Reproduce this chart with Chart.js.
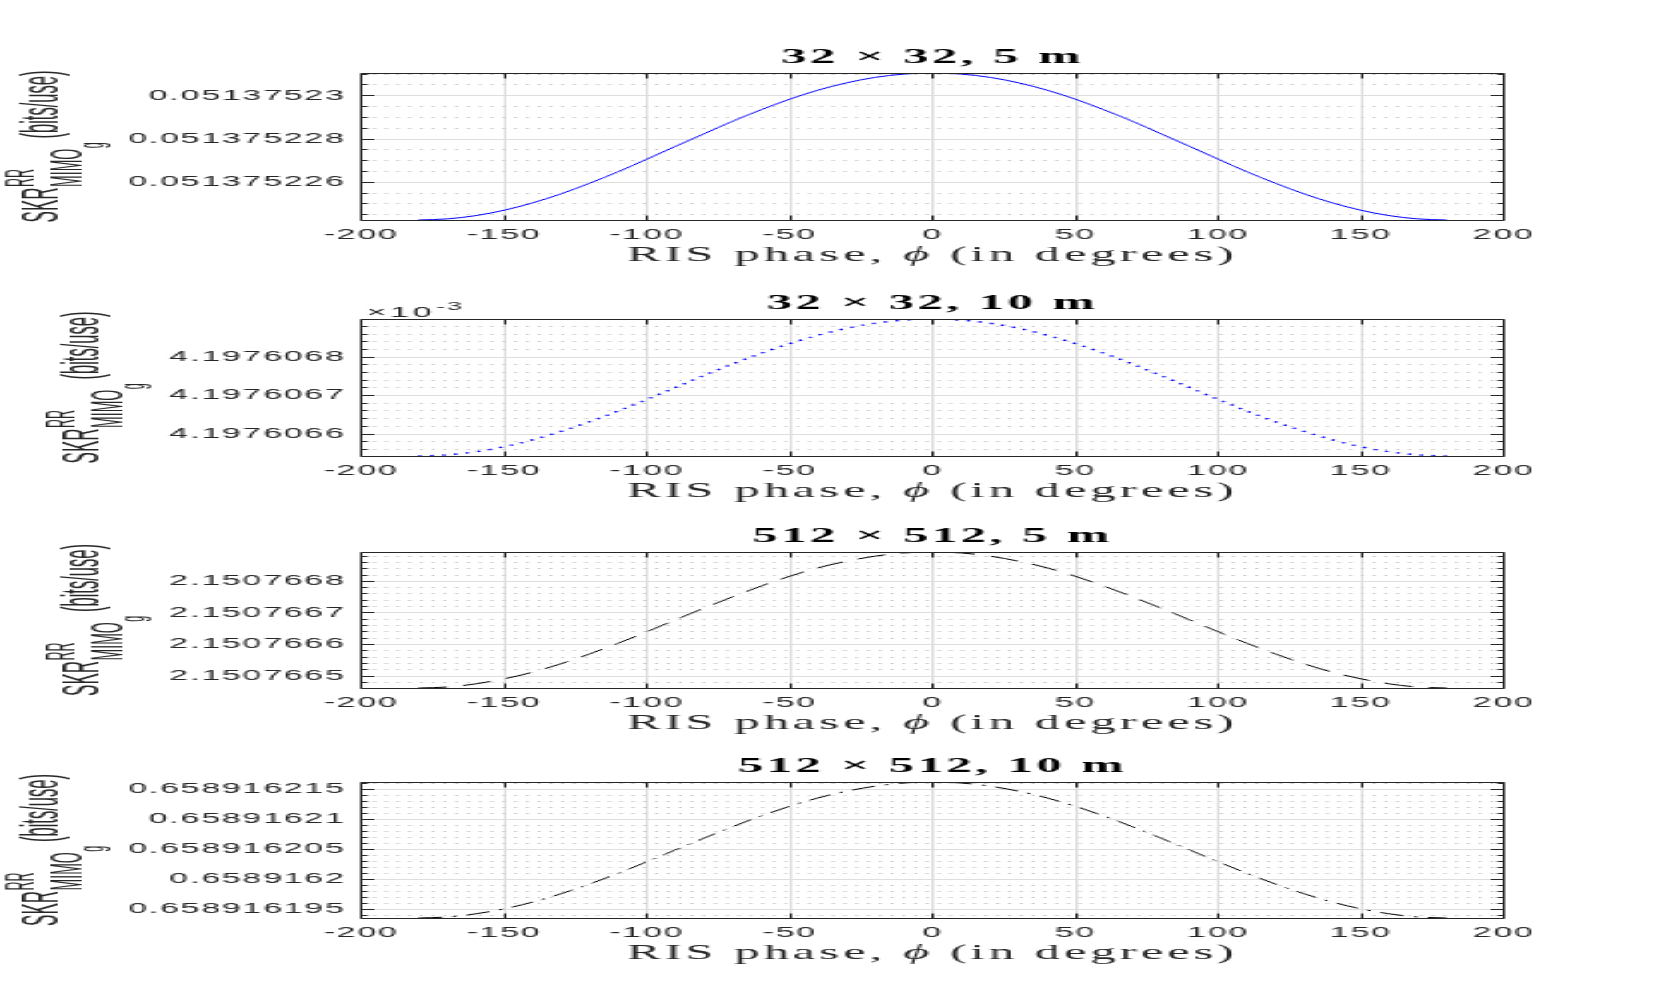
<!DOCTYPE html>
<html>
<head>
<meta charset="utf-8">
<script src="https://cdn.jsdelivr.net/npm/chart.js@4.4.1/dist/chart.umd.min.js"></script>
<style>
html,body{margin:0;padding:0;background:#fff;overflow:hidden;width:1661px;height:981px;}
#stage{position:absolute;left:0;top:0;width:692px;height:981px;transform-origin:0 0;}
.band{position:absolute;left:0;width:692px;}
</style>
</head>
<body>
<div id="stage">
  <div class="band" style="top:31px;height:237px"><canvas id="c1"></canvas></div>
  <div class="band" style="top:277px;height:227px"><canvas id="c2"></canvas></div>
  <div class="band" style="top:510px;height:226px"><canvas id="c3"></canvas></div>
  <div class="band" style="top:740px;height:226px"><canvas id="c4"></canvas></div>
</div>
<script>
// ---------------- data ----------------
const phiDeg = [-180,-170,-160,-150,-140,-130,-120,-110,-100,-90,-80,-70,-60,-50,-40,-30,-20,-10,0,
                10,20,30,40,50,60,70,80,90,100,110,120,130,140,150,160,170,180];

const skr32x32at5m = [0.05137522426,0.05137522431,0.05137522446,0.05137522471,0.05137522505,0.05137522547,
  0.05137522596,0.05137522649,0.05137522707,0.05137522766,0.05137522824,0.05137522882,0.05137522935,
  0.05137522984,0.05137523026,0.0513752306,0.05137523085,0.051375231,0.05137523105,0.051375231,
  0.05137523085,0.0513752306,0.05137523026,0.05137522984,0.05137522935,0.05137522882,0.05137522824,
  0.05137522766,0.05137522707,0.05137522649,0.05137522596,0.05137522547,0.05137522505,0.05137522471,
  0.05137522446,0.05137522431,0.05137522426];

const skr32x32at10m = [0.004197606543,0.004197606546,0.004197606554,0.004197606567,0.004197606585,
  0.004197606607,0.004197606632,0.00419760666,0.00419760669,0.004197606721,0.004197606752,0.004197606782,
  0.00419760681,0.004197606835,0.004197606857,0.004197606875,0.004197606888,0.004197606896,0.004197606899,
  0.004197606896,0.004197606888,0.004197606875,0.004197606857,0.004197606835,0.00419760681,0.004197606782,
  0.004197606752,0.004197606721,0.00419760669,0.00419760666,0.004197606632,0.004197606607,0.004197606585,
  0.004197606567,0.004197606554,0.004197606546,0.004197606543];

const skr512x512at5m = [2.150766462,2.150766465,2.150766475,2.150766491,2.150766512,2.150766539,2.15076657,
  2.150766604,2.15076664,2.150766678,2.150766715,2.150766751,2.150766785,2.150766816,2.150766843,2.150766864,
  2.15076688,2.15076689,2.150766893,2.15076689,2.15076688,2.150766864,2.150766843,2.150766816,2.150766785,
  2.150766751,2.150766715,2.150766678,2.15076664,2.150766604,2.15076657,2.150766539,2.150766512,2.150766491,
  2.150766475,2.150766465,2.150766462];

const skr512x512at10m = [0.6589161935,0.65891619367,0.65891619419,0.65891619503,0.65891619616,0.65891619757,
  0.65891619919,0.65891620099,0.65891620291,0.65891620489,0.65891620686,0.65891620878,0.65891621058,
  0.6589162122,0.65891621361,0.65891621474,0.65891621558,0.6589162161,0.65891621627,0.6589162161,
  0.65891621558,0.65891621474,0.65891621361,0.6589162122,0.65891621058,0.65891620878,0.65891620686,
  0.65891620489,0.65891620291,0.65891620099,0.65891619919,0.65891619757,0.65891619616,0.65891619503,
  0.65891619419,0.65891619367,0.6589161935];

const panelTitles = ['32 \u00d7 32, 5 m', '32 \u00d7 32, 10 m', '512 \u00d7 512, 5 m', '512 \u00d7 512, 10 m'];

const xTickValues = [-200,-150,-100,-50,0,50,100,150,200];
const xTickLabels = ['-200','-150','-100','-50','0','50','100','150','200'];

const yLimits32x5 = [0.05137522426, 0.05137523105];
const yTicks32x5 = [0.051375226, 0.051375228, 0.05137523];
const yTickLabels32x5 = ['0.051375226', '0.051375228', '0.05137523'];

const yLimits32x10 = [0.004197606543, 0.004197606899];
const yTicks32x10 = [0.0041976066, 0.0041976067, 0.0041976068];
const yTickLabels32x10 = ['4.1976066', '4.1976067', '4.1976068'];

const yLimits512x5 = [2.150766462, 2.150766893];
const yTicks512x5 = [2.1507665, 2.1507666, 2.1507667, 2.1507668];
const yTickLabels512x5 = ['2.1507665', '2.1507666', '2.1507667', '2.1507668'];

const yLimits512x10 = [0.6589161935, 0.65891621627];
const yTicks512x10 = [0.658916195, 0.6589162, 0.658916205, 0.65891621, 0.658916215];
const yTickLabels512x10 = ['0.658916195', '0.6589162', '0.658916205', '0.65891621', '0.658916215'];

const yMinorSteps = [5e-10, 2e-11, 2e-8, 1e-9];

// ---------------- layout / style ----------------
const STAGE_W = 692;
const STRETCH = 1661 / STAGE_W;
document.getElementById('stage').style.transform = 'scaleX(' + STRETCH + ')';

const SANS = '"Liberation Sans", Arial, Helvetica, sans-serif';
const SERIF = '"Liberation Serif", "Times New Roman", "DejaVu Serif", serif';
const TICK_LS = '0.8px';
const Y_TICK_PAD = 6.5;
const TXT = '#262626';

function minorValues(min, max, step, majors) {
  const out = [];
  const k0 = Math.ceil(min / step - 1e-6), k1 = Math.floor(max / step + 1e-6);
  for (let k = k0; k <= k1; k++) {
    const v = k * step;
    if (v < min || v > max) continue;
    if (majors.some(m => Math.abs(m - v) < step * 0.05)) continue;
    out.push(v);
  }
  return out;
}

function align(p) { return Math.round(p - 0.5) + 0.5; }

function axesPlugin(p) {
  return {
    id: 'matlabAxes',
    beforeLayout(chart) { chart.ctx.letterSpacing = TICK_LS; },
    beforeDraw(chart) { chart.ctx.letterSpacing = TICK_LS; },
    beforeDatasetsDraw(chart) {
      const ctx = chart.ctx, a = chart.chartArea, y = chart.scales.y;
      ctx.save();
      ctx.strokeStyle = '#c6c6c6';
      ctx.lineWidth = 1;
      ctx.setLineDash([1.2, 3.7]);
      for (const v of p.minor) {
        const py = align(y.getPixelForValue(v));
        ctx.beginPath(); ctx.moveTo(a.left, py); ctx.lineTo(a.right, py); ctx.stroke();
      }
      ctx.restore();
    },
    afterDatasetsDraw(chart) {
      const ctx = chart.ctx, a = chart.chartArea, x = chart.scales.x, y = chart.scales.y;
      ctx.save();
      ctx.strokeStyle = TXT;
      ctx.lineWidth = 1;
      ctx.setLineDash([]);
      const L = align(a.left), R = align(a.right), T = align(a.top), B = align(a.bottom);
      ctx.beginPath();
      ctx.rect(L, T, R - L, B - T);
      ctx.stroke();
      ctx.beginPath();
      for (const v of xTickValues) {
        const px = align(x.getPixelForValue(v));
        ctx.moveTo(px, B); ctx.lineTo(px, B - 5);
        ctx.moveTo(px, T); ctx.lineTo(px, T + 5);
      }
      for (const v of p.yTicks) {
        const py = align(y.getPixelForValue(v));
        ctx.moveTo(L, py); ctx.lineTo(L + 5.5, py);
        ctx.moveTo(R, py); ctx.lineTo(R - 5.5, py);
      }
      for (const v of p.minor) {
        const py = align(y.getPixelForValue(v));
        ctx.moveTo(L, py); ctx.lineTo(L + 2.8, py);
        ctx.moveTo(R, py); ctx.lineTo(R - 2.8, py);
      }
      ctx.stroke();
      ctx.restore();
    },
    afterDraw(chart) {
      const ctx = chart.ctx, a = chart.chartArea;
      const cx = (a.left + a.right) / 2;
      ctx.save();
      ctx.textAlign = 'left';
      ctx.textBaseline = 'alphabetic';

      // title
      ctx.fillStyle = '#000';
      ctx.letterSpacing = '1.5px';
      ctx.font = 'bold 21px ' + SERIF;
      const tw = ctx.measureText(p.title).width;
      ctx.fillText(p.title, cx - tw / 2, a.top - 10);

      // x label
      ctx.fillStyle = TXT;
      ctx.letterSpacing = '1.7px';
      const segs = [
        { t: 'RIS phase, ', f: '21px ' + SERIF },
        { t: '\u03d5', f: 'italic 21px ' + SERIF },
        { t: ' (in degrees)', f: '21px ' + SERIF }
      ];
      let total = 0;
      for (const s of segs) { ctx.font = s.f; s.w = ctx.measureText(s.t).width; total += s.w; }
      let sx = cx - total / 2;
      for (const s of segs) { ctx.font = s.f; ctx.fillText(s.t, sx, a.bottom + 40.5); sx += s.w; }

      // exponent label
      if (p.exponent) {
        ctx.letterSpacing = '1.6px';
        ctx.font = '14px ' + SANS;
        const ex = a.left + 2.3;
        ctx.fillText('\u00d710', ex, a.top - 2);
        const ew = ctx.measureText('\u00d710').width;
        ctx.font = '11px ' + SANS;
        ctx.letterSpacing = '0.9px';
        ctx.fillText(p.exponent, ex + ew + 0.3, a.top - 9);
      }

      // y label (rotated)
      ctx.letterSpacing = TICK_LS;
      ctx.font = '14px ' + SANS;
      let maxW = 0;
      for (const t of p.yLabels) maxW = Math.max(maxW, ctx.measureText(t).width);
      const tickLeft = a.left - Y_TICK_PAD - maxW;
      const X0 = tickLeft - 29.5;
      ctx.letterSpacing = '0px';
      const parts = [
        { t: 'SKR', f: '17px ' + SANS, dy: 0 },
        { t: 'RR', f: '12.5px ' + SANS, dy: -7.3 },
        { t: 'MIMO', f: '14px ' + SANS, dy: 7.5 },
        { t: 'g', f: '10.5px ' + SANS, dy: 14.5 },
        { t: '(bits/use)', f: '16.5px ' + SANS, dy: 0 }
      ];
      for (const s of parts) { ctx.font = s.f; s.w = ctx.measureText(s.t).width; }
      parts[0].x = 0;
      parts[1].x = parts[0].w + 0.5;
      parts[2].x = parts[0].w + 0.5;
      parts[3].x = parts[2].x + parts[2].w + 0.5;
      parts[4].x = parts[3].x + parts[3].w + 4;
      const len = parts[4].x + parts[4].w;
      const y0 = (a.top + a.bottom) / 2 + len / 2;
      ctx.translate(X0, y0);
      ctx.rotate(-Math.PI / 2);
      ctx.scale(1, 1.32);
      for (const s of parts) { ctx.font = s.f; ctx.fillText(s.t, s.x, s.dy); }
      ctx.restore();
    }
  };
}

const panels = [
  { id: 'c1', title: panelTitles[0], y: skr32x32at5m, lim: yLimits32x5, yTicks: yTicks32x5, yLabels: yTickLabels32x5,
    step: yMinorSteps[0], exponent: null, color: '#0000ff', dash: [], width: 1 },
  { id: 'c2', title: panelTitles[1], y: skr32x32at10m, lim: yLimits32x10, yTicks: yTicks32x10, yLabels: yTickLabels32x10,
    step: yMinorSteps[1], exponent: '-3', color: '#0000ff', dash: [1.4, 3.6], width: 1.4 },
  { id: 'c3', title: panelTitles[2], y: skr512x512at5m, lim: yLimits512x5, yTicks: yTicks512x5, yLabels: yTickLabels512x5,
    step: yMinorSteps[2], exponent: null, color: '#000000', dash: [12, 7], width: 1 },
  { id: 'c4', title: panelTitles[3], y: skr512x512at10m, lim: yLimits512x10, yTicks: yTicks512x10, yLabels: yTickLabels512x10,
    step: yMinorSteps[3], exponent: null, color: '#000000', dash: [10, 4.5, 1.5, 4.5], width: 1 }
];

for (const p of panels) {
  p.minor = minorValues(p.lim[0], p.lim[1], p.step, p.yTicks);
  new Chart(document.getElementById(p.id), {
    type: 'line',
    data: {
      datasets: [{
        data: phiDeg.map((v, i) => ({ x: v, y: p.y[i] })),
        borderColor: p.color,
        borderWidth: p.width,
        borderDash: p.dash,
        pointRadius: 0,
        fill: false,
        cubicInterpolationMode: 'monotone'
      }]
    },
    options: {
      responsive: true,
      maintainAspectRatio: false,
      animation: false,
      events: [],
      layout: { padding: { top: 42, right: 65.5, bottom: 0, left: 0 } },
      plugins: { legend: { display: false }, tooltip: { enabled: false }, title: { display: false } },
      scales: {
        x: {
          type: 'linear', min: -200, max: 200,
          afterBuildTicks: s => { s.ticks = xTickValues.map(v => ({ value: v })); },
          afterFit: s => { s.height = 48; },
          ticks: {
            autoSkip: false, maxRotation: 0, padding: 6.5, color: TXT,
            font: { family: SANS, size: 14 },
            callback: (v, i) => xTickLabels[i]
          },
          grid: { color: '#dedede', lineWidth: 1, drawTicks: false },
          border: { display: false }
        },
        y: {
          type: 'linear', min: p.lim[0], max: p.lim[1],
          afterBuildTicks: s => { s.ticks = p.yTicks.map(v => ({ value: v })); },
          afterFit: s => { s.width = 150.5; },
          ticks: {
            autoSkip: false, padding: Y_TICK_PAD, color: TXT,
            font: { family: SANS, size: 14 },
            callback: (v, i) => p.yLabels[i]
          },
          grid: { color: '#dedede', lineWidth: 1, drawTicks: false },
          border: { display: false }
        }
      }
    },
    plugins: [axesPlugin(p)]
  });
}
</script>
</body>
</html>
